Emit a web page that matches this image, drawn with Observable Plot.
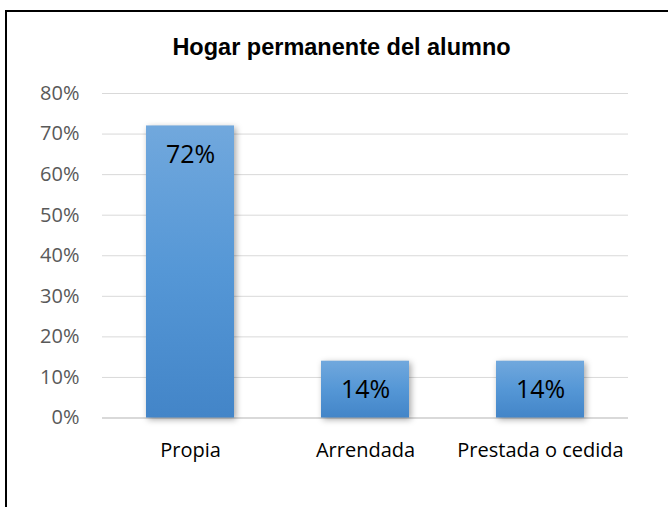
<!DOCTYPE html>
<html>
<head>
<meta charset="utf-8">
<script src="https://cdn.jsdelivr.net/npm/d3@7"></script>
<script src="https://cdn.jsdelivr.net/npm/@observablehq/plot@0.6"></script>
<style>
  html, body { margin: 0; padding: 0; background: #fff; overflow: hidden; }
  #frame { position: absolute; left: 5px; top: 10px; right: 0; bottom: 0; border-top: 2px solid #000; border-left: 2px solid #000; pointer-events: none; }
  #title { position: relative; height: 70px; }
  #title div { position: absolute; top: 36px; left: 0; width: 683px; text-align: center; font: bold 23.5px "Liberation Sans", Arial, sans-serif; line-height: 1; color: #000; }
  .bars { filter: drop-shadow(2px 2px 3px rgba(0,0,0,0.35)); }
</style>
</head>
<body>
<div id="title"><div>Hogar permanente del alumno</div></div>
<div id="chart"></div>
<div id="frame"></div>
<script>
const categories = ["Propia", "Arrendada", "Prestada o cedida"];
const values = [0.72, 0.14, 0.14];
const yTicks = [0, 0.1, 0.2, 0.3, 0.4, 0.5, 0.6, 0.7, 0.8];

const data = categories.map((c, i) => ({category: c, value: values[i]}));
const pct = d3.format(".0%");

const plot = Plot.plot({
  width: 668,
  height: 437,
  marginTop: 23,
  marginBottom: 89.5,
  marginLeft: 102,
  marginRight: 40,
  style: {fontFamily: "'Open Sans', sans-serif", background: "#fff"},
  x: {domain: categories, paddingInner: 0.5, paddingOuter: 0.25, label: null},
  y: {domain: [0, 0.8], label: null},
  marks: [
    Plot.gridY(yTicks, {stroke: "#d9d9d9", strokeOpacity: 1, strokeWidth: 1}),
    Plot.ruleY([0], {stroke: "#d9d9d9", strokeWidth: 2}),
    Plot.barY(data, {x: "category", y: "value", fill: "url(#barGrad)", className: "bars"}),
    Plot.text(data, {x: "category", y: "value", text: d => pct(d.value), dy: 29, lineAnchor: "middle", fontSize: 25, fill: "#000"}),
    Plot.axisY(yTicks, {tickSize: 0, tickPadding: 23, tickFormat: pct, fontSize: 20, fill: "#595959", label: null}),
    Plot.axisX({tickSize: 0, tickPadding: 25, fontSize: 20, fill: "#000", label: null})
  ]
});

const ns = "http://www.w3.org/2000/svg";
const defs = document.createElementNS(ns, "defs");
const grad = document.createElementNS(ns, "linearGradient");
grad.setAttribute("id", "barGrad");
grad.setAttribute("x1", "0"); grad.setAttribute("y1", "0");
grad.setAttribute("x2", "0"); grad.setAttribute("y2", "1");
[["0%", "#71a8dd"], ["50%", "#5597d6"], ["100%", "#4385c8"]].forEach(([o, c]) => {
  const s = document.createElementNS(ns, "stop");
  s.setAttribute("offset", o);
  s.setAttribute("stop-color", c);
  grad.appendChild(s);
});
defs.appendChild(grad);
plot.insertBefore(defs, plot.firstChild);

document.getElementById("chart").appendChild(plot);
</script>
</body>
</html>
